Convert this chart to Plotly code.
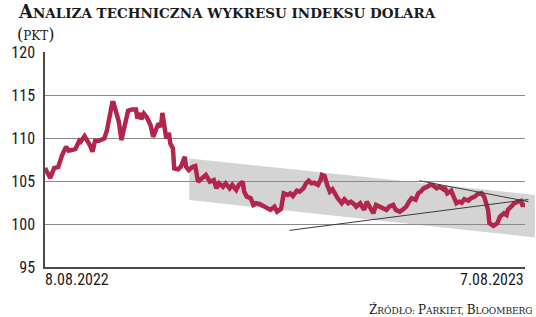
import pandas as pd
import plotly.graph_objects as go

# ---------------- data ----------------
start_date = "2022-08-08"
end_date = "2023-08-07"
# trading-day offsets (days since 8.08.2022) and index values (pkt)
day_offsets = [0, 4, 7, 10, 13, 16, 18, 21, 23, 26, 27, 30, 32, 34, 36, 38, 41, 45, 47, 49,
               51, 52, 55, 56, 58, 61, 63, 66, 69, 70, 72, 73, 75, 77, 80, 82, 84, 86, 88, 89,
               91, 92, 94, 95, 97, 98, 101, 103, 106, 107, 109, 112, 114, 116, 120, 122, 125, 128, 130, 132,
               135, 137, 140, 142, 145, 147, 150, 151, 153, 156, 158, 160, 163, 167, 169, 171, 174, 176, 179, 181,
               184, 186, 188, 191, 193, 196, 198, 200, 202, 204, 207, 209, 210, 212, 214, 216, 218, 220, 222, 225,
               227, 230, 232, 235, 236, 239, 242, 244, 247, 249, 251, 254, 256, 259, 261, 264, 266, 269, 271, 274,
               276, 278, 281, 283, 285, 287, 290, 292, 294, 297, 299, 302, 303, 305, 308, 310, 312, 314, 316, 318,
               321, 323, 326, 328, 331, 333, 336, 337, 340, 343, 345, 348, 350, 351, 354, 356, 359, 361, 362, 364]
dxy_values = [106.51, 105.35, 106.51, 106.62, 108.02, 108.98, 108.52, 108.71, 108.71, 109.68, 109.56, 110.22, 109.76, 109.18, 108.40, 109.68, 109.68, 109.95, 110.92, 112.46,
              114.08, 114.08, 112.46, 111.88, 109.76, 112.08, 113.16, 113.32, 113.32, 112.27, 112.92, 112.16, 112.85, 112.46, 111.50, 110.14, 110.92, 111.69, 111.30, 112.92,
              110.92, 109.95, 110.60, 109.37, 108.79, 106.47, 106.36, 106.66, 107.82, 106.66, 106.28, 106.66, 106.74, 104.92, 105.43, 105.70, 104.92, 105.12, 104.15, 104.73,
              104.34, 104.73, 104.15, 104.54, 103.96, 104.54, 104.92, 103.76, 103.18, 102.99, 102.22, 102.41, 102.30, 102.02, 101.83, 101.64, 102.02, 101.44, 101.75, 103.57,
              103.38, 103.57, 103.26, 103.87, 103.76, 104.15, 104.73, 105.03, 104.73, 104.80, 104.54, 105.12, 105.70, 105.58, 104.54, 103.76, 104.04, 103.38, 102.99, 102.41,
              102.88, 102.41, 102.60, 102.22, 102.02, 102.41, 101.64, 102.60, 101.83, 101.25, 102.22, 102.02, 101.83, 101.64, 102.02, 102.22, 101.64, 101.44, 101.64, 102.02,
              102.60, 102.99, 102.80, 103.57, 103.76, 104.15, 104.34, 104.54, 104.54, 104.15, 104.34, 104.04, 104.27, 103.57, 103.87, 103.18, 102.41, 102.60, 102.48, 102.88,
              102.71, 102.99, 103.18, 103.49, 103.57, 103.18, 101.64, 100.09, 99.78, 100.09, 100.86, 101.25, 101.06, 101.64, 102.02, 102.41, 102.60, 102.68, 102.22, 102.22]

y_ticks = [95, 100, 105, 110, 115, 120]
x_tick_labels = ["8.08.2022", "7.08.2023"]

# descending channel (day offsets, upper edge values, lower edge values)
channel_days = [109.4, 371.5]
channel_upper = [107.63, 103.38]
channel_lower = [102.80, 98.43]
# trend lines: (day offsets, values)
support_days = [185.5, 366.6]
support_values = [99.26, 102.85]
resistance_days = [284.0, 366.6]
resistance_values = [105.03, 102.60]

title_text = "Analiza techniczna wykresu indeksu dolara"
unit_text = "pkt"
source_text = "Źródło: Parkiet, Bloomberg"

# ---------------- helpers ----------------
W, H = 536, 317
ML, MR, MT, MB = 27, 11, 52, 50
PW, PH = W - ML - MR, H - MT - MB
Y0, Y1 = 95, 120
SPAN = (pd.Timestamp(end_date) - pd.Timestamp(start_date)).days
SERIF = "DejaVu Serif, Liberation Serif, serif"
NARROW = "Liberation Sans Narrow, Roboto Condensed, Roboto"

def px_x(px):
    return (px - ML) / PW

def px_y(py):
    return (H - MB - py) / PH

def day_paper(d):
    return d / SPAN

def val_paper(v):
    return (v - Y0) / (Y1 - Y0)

def small_caps(text, big, small):
    """Group characters into runs: capitals -> big size, lowercase -> uppercased small size."""
    runs = []
    for ch in text:
        is_big = ch.isalpha() and ch == ch.upper()
        c = ch if is_big else ch.upper()
        size = big if is_big else small
        if runs and runs[-1][0] == size:
            runs[-1][1] += c
        else:
            runs.append([size, c])
    return "".join(f"<span style=\"font-size:{s}px\">{t}</span>" for s, t in runs)

dates = pd.Timestamp(start_date) + pd.to_timedelta(day_offsets, unit="D")

fig = go.Figure()
fig.add_trace(go.Scatter(
    x=dates, y=dxy_values, mode="lines",
    line=dict(color="#B2264E", width=4.5),
    hoverinfo="skip", showlegend=False,
))

shapes = []
pts = [(day_paper(channel_days[0]), val_paper(channel_upper[0])),
       (day_paper(channel_days[1]), val_paper(channel_upper[1])),
       (day_paper(channel_days[1]), val_paper(channel_lower[1])),
       (day_paper(channel_days[0]), val_paper(channel_lower[0]))]
path = "M " + " L ".join(f"{x:.5f},{y:.5f}" for x, y in pts) + " Z"
shapes.append(dict(type="path", xref="paper", yref="paper", path=path,
                   fillcolor="#D4D4D4", line=dict(width=0), layer="below"))
for dd, vv in [(support_days, support_values), (resistance_days, resistance_values)]:
    shapes.append(dict(type="line", xref="paper", yref="paper",
                       x0=day_paper(dd[0]), y0=val_paper(vv[0]),
                       x1=day_paper(dd[1]), y1=val_paper(vv[1]),
                       line=dict(color="#3a3a3a", width=1), layer="above"))

ann = []
ann.append(dict(xref="paper", yref="paper", x=px_x(-3), y=px_y(12), xanchor="left", yanchor="middle",
                text="<b>" + small_caps(title_text, 18, 13.5) + "</b>", showarrow=False,
                font=dict(family=SERIF, color="#1a1a1a", size=13.5)))
ann.append(dict(xref="paper", yref="paper", x=px_x(-4), y=px_y(34), xanchor="left", yanchor="middle",
                text="<span style=\"font-size:16px\">(</span>" + small_caps(unit_text, 12, 12)
                     + "<span style=\"font-size:16px\">)</span>",
                showarrow=False,
                font=dict(family=SERIF, color="#1a1a1a", size=12)))
ann.append(dict(xref="paper", yref="paper", x=px_x(535), y=px_y(309.5), xanchor="right", yanchor="middle",
                text=small_caps(source_text, 12, 9), showarrow=False,
                font=dict(family=SERIF, color="#1a1a1a", size=9)))
date_font = dict(family=NARROW, color="#1a1a1a", size=16)
ann.append(dict(xref="x", yref="paper", x=dates[0], y=px_y(279.5), xanchor="left", yanchor="middle",
                text=x_tick_labels[0], showarrow=False, font=date_font, xshift=-2))
ann.append(dict(xref="x", yref="paper", x=dates[-1], y=px_y(279.5), xanchor="right", yanchor="middle",
                text=x_tick_labels[1], showarrow=False, font=date_font, xshift=1))

fig.update_layout(
    width=W, height=H,
    margin=dict(l=ML, r=MR, t=MT, b=MB, pad=0),
    paper_bgcolor="white", plot_bgcolor="white",
    shapes=shapes, annotations=ann,
    xaxis=dict(range=[pd.Timestamp(start_date), pd.Timestamp(end_date)], showgrid=False,
               showticklabels=False, ticks="", zeroline=False,
               showline=True, linecolor="#4a4a4a", linewidth=1.5),
    yaxis=dict(range=[Y0, Y1], tickvals=y_ticks, showgrid=True, gridcolor="#8a8a8a", gridwidth=1.4,
               zeroline=False, showline=True, linecolor="#4a4a4a", linewidth=1.5, ticks="",
               ticklabelstandoff=5,
               tickfont=dict(family=NARROW, size=16, color="#1a1a1a")),
)

fig.write_html("out.html")
